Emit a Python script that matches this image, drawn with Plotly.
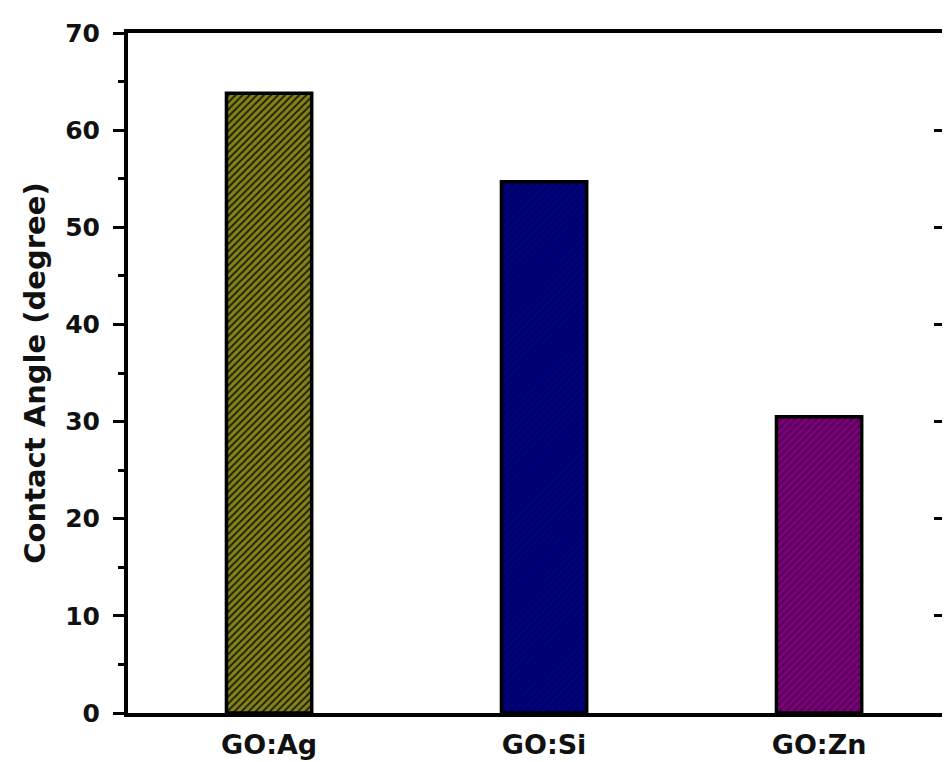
import plotly.graph_objects as go

categories = ["GO:Ag", "GO:Si", "GO:Zn"]
contact_angle = [63.8, 54.7, 30.5]
bar_colors = ["#848418", "#000080", "#7c007c"]
stripe_colors = ["#202004", "#00005e", "#520052"]
y_ticks = [0, 10, 20, 30, 40, 50, 60, 70]

FONT = "DejaVu Sans, Liberation Sans, Arial, sans-serif"

fig = go.Figure()
# solid base fill
fig.add_trace(go.Bar(
    x=[0, 1, 2], y=contact_angle, width=0.31,
    marker=dict(color=bar_colors, line=dict(width=0)),
    showlegend=False, hoverinfo="skip",
))
# hatch overlay with outline
fig.add_trace(go.Bar(
    x=[0, 1, 2], y=contact_angle, width=0.31,
    marker=dict(
        color="rgba(0,0,0,0)",
        line=dict(color="black", width=3.5),
        pattern=dict(shape="/", fillmode="replace", bgcolor="rgba(0,0,0,0)",
                     fgcolor=stripe_colors, size=5, solidity=0.4),
    ),
    showlegend=False,
))
# invisible trace to carry the right-hand axis ticks
fig.add_trace(go.Scatter(x=[0], y=[0], yaxis="y2", mode="markers",
                         marker=dict(opacity=0), showlegend=False, hoverinfo="skip"))

fig.update_layout(
    barmode="overlay",
    width=934, height=754,
    margin=dict(l=120, r=0, t=25, b=49),
    paper_bgcolor="white", plot_bgcolor="white",
    font=dict(family=FONT, color="black"),
    xaxis=dict(
        range=[-0.513, 2.447],
        tickmode="array", tickvals=[0, 1, 2], ticktext=categories,
        tickfont=dict(size=27, family=FONT, weight="bold", color="#111"),
        ticklabelstandoff=5,
        showline=True, linecolor="black", linewidth=4, mirror=True,
        ticks="", showgrid=False, zeroline=False,
    ),
    yaxis=dict(
        range=[0, 70],
        tickmode="array", tickvals=y_ticks,
        tickfont=dict(size=25, family=FONT, weight="bold", color="#111"),
        ticks="outside", ticklen=11, tickwidth=3, tickcolor="black",
        ticklabelstandoff=8,
        minor=dict(dtick=5, ticks="outside", ticklen=6, tickwidth=3, tickcolor="black"),
        showline=True, linecolor="black", linewidth=4,
        showgrid=False, zeroline=False,
        title=dict(text="Contact Angle (degree)", standoff=12,
                   font=dict(size=29, family=FONT, weight="bold", color="#111")),
    ),
    yaxis2=dict(
        range=[0, 70], overlaying="y", side="right",
        tickmode="array", tickvals=y_ticks,
        ticks="inside", ticklen=8, tickwidth=3, tickcolor="black",
        showticklabels=False, showline=False, showgrid=False, zeroline=False,
    ),
)

fig.write_html("out.html")
